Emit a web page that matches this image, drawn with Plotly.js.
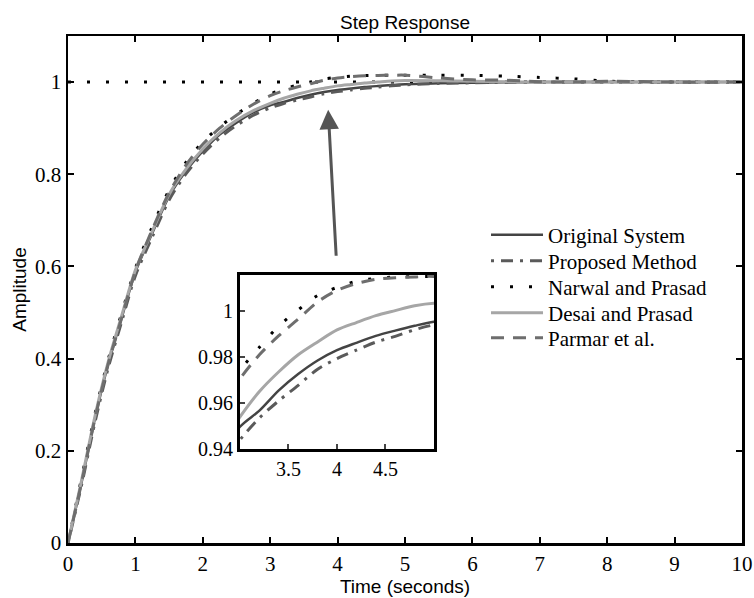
<!DOCTYPE html>
<html><head><meta charset="utf-8">
<script src="https://cdn.plot.ly/plotly-3.0.1.min.js"></script>
<style>html,body{margin:0;padding:0;background:#fff}#chart{width:754px;height:598px}</style>
</head><body><div id="chart"></div>
<script>
// Time samples (seconds)
const time = [0,0.2,0.4,0.6,0.8,1,1.25,1.5,1.75,2,2.25,2.5,2.75,3,3.2,3.4,3.6,3.8,4,4.2,4.4,4.6,4.8,5,5.5,6,6.5,7,7.5,8,9,10];

// Series values
const originalSystem = [0,0.13,0.27,0.39,0.49,0.588,0.672,0.752,0.807,0.85,0.886,0.912,0.934,0.9497,0.9567,0.9655,0.9726,0.9785,0.983,0.9862,0.9892,0.9915,0.9936,0.9954,0.9975,0.9988,0.9995,1,1,1,1,1];
const proposedMethod = [0,0.125,0.262,0.382,0.482,0.58,0.664,0.744,0.801,0.844,0.879,0.906,0.928,0.944,0.9535,0.961,0.9677,0.9747,0.9793,0.983,0.9865,0.989,0.9919,0.994,0.997,0.9985,0.9995,1,1,1,1,1];
const narwalPrasad = [0,0.14,0.28,0.4,0.5,0.596,0.686,0.766,0.826,0.87,0.903,0.93,0.954,0.974,0.9843,0.9935,1.0005,1.0068,1.0103,1.013,1.0142,1.0148,1.015,1.015,1.015,1.0145,1.013,1.01,1.007,1.002,1,1];
const desaiPrasad = [0,0.135,0.275,0.395,0.495,0.592,0.676,0.756,0.811,0.855,0.89,0.917,0.938,0.954,0.965,0.9736,0.981,0.9866,0.9918,0.995,0.998,1.0002,1.0023,1.0034,1.003,1.002,1.001,1,1,1,1,1];
const parmarEtAl = [0,0.13,0.27,0.39,0.49,0.59,0.68,0.76,0.82,0.865,0.9,0.928,0.952,0.9705,0.981,0.9893,0.9965,1.004,1.009,1.012,1.0138,1.0145,1.0148,1.015,1.009,1.005,1.004,1.001,1,1.002,1,1];

// Steady-state reference line
const refTime = [0,10];
const refValue = [1,1];

const seriesNames = ['Original System','Proposed Method','Narwal and Prasad','Desai and Prasad','Parmar et al.'];
const seriesData = [originalSystem, proposedMethod, narwalPrasad, desaiPrasad, parmarEtAl];
const seriesStyle = [
  {color:'#444444', width:2.5, dash:'solid'},
  {color:'#5a5a5a', width:3, dash:'3px,7px,12px,7px'},
  {color:'#000000', width:3, dash:'3px,16px'},
  {color:'#a6a6a6', width:3, dash:'solid'},
  {color:'#6e6e6e', width:3, dash:'13px,9px'}
];
const legendIds = ['legend','legend2','legend3','legend4','legend5'];
const legendRowY = [0.6075, 0.5562, 0.5049, 0.4536, 0.4043];

const traces = [];
traces.push({x:refTime, y:refValue, type:'scatter', mode:'lines', showlegend:false, hoverinfo:'skip',
  line:{color:'#000', width:3, dash:'3px,16px'}, xaxis:'x', yaxis:'y'});
seriesData.forEach((d,i)=>{
  traces.push({x:time, y:d, name:seriesNames[i], type:'scatter', mode:'lines', legend:legendIds[i],
    line:Object.assign({shape:'spline', smoothing:0.8}, seriesStyle[i]), xaxis:'x', yaxis:'y'});
});
seriesData.forEach((d,i)=>{
  traces.push({x:time, y:d, name:seriesNames[i], type:'scatter', mode:'lines', showlegend:false,
    line:Object.assign({shape:'spline', smoothing:0.8}, seriesStyle[i]), xaxis:'x2', yaxis:'y2'});
});

const serif = 'Liberation Serif, Times New Roman, serif';
const sans = 'Liberation Sans, Arial, sans-serif';

const layout = {
  width:754, height:598,
  margin:{l:68, r:12, t:36, b:55},
  paper_bgcolor:'#fff', plot_bgcolor:'rgba(0,0,0,0)',
  title:{text:'Step Response', font:{family:sans, size:19, color:'#000'}, x:0.5, xref:'paper', y:0.963, yref:'container', yanchor:'middle'},
  xaxis:{range:[0,10], dtick:1, tick0:0, ticks:'inside', ticklen:6, tickwidth:2, tickcolor:'#000',
    showline:true, linewidth:2.5, linecolor:'#000', mirror:'ticks', showgrid:false, zeroline:false,
    tickfont:{family:serif, size:21, color:'#000'},
    title:{text:'Time (seconds)', font:{family:sans, size:19, color:'#000'}, standoff:0}},
  yaxis:{range:[0,1.1], dtick:0.2, tick0:0, ticks:'inside', ticklen:6, tickwidth:2, tickcolor:'#000',
    showline:true, linewidth:2.5, linecolor:'#000', mirror:'ticks', showgrid:false, zeroline:false,
    tickfont:{family:serif, size:21, color:'#000'},
    title:{text:'Amplitude', font:{family:sans, size:19, color:'#000'}, standoff:4}},
  xaxis2:{domain:[0.2552,0.543], anchor:'y2', range:[3,5], tickvals:[3.5,4,4.5], ticks:'inside', ticklen:5, tickwidth:2,
    showline:true, linewidth:3, linecolor:'#000', mirror:true, showgrid:false, zeroline:false,
    tickfont:{family:serif, size:20, color:'#000'}},
  yaxis2:{domain:[0.1854,0.5286], anchor:'x2', range:[0.94,1.0157], tickvals:[0.94,0.96,0.98,1], ticks:'inside', ticklen:5, tickwidth:2,
    showline:true, linewidth:3, linecolor:'#000', mirror:true, showgrid:false, zeroline:false,
    tickfont:{family:serif, size:20, color:'#000'}},
  annotations:[{x:3.86, y:0.94, xref:'x', yref:'y', ax:3.98, ay:0.62, axref:'x', ayref:'y',
    text:'', showarrow:true, arrowhead:2, arrowsize:1.3, arrowwidth:3, arrowcolor:'#555555'}],
  showlegend:true
};
legendIds.forEach((id,i)=>{
  layout[id] = {x:0.6202, y:legendRowY[i], xanchor:'left', yanchor:'middle', bgcolor:'rgba(0,0,0,0)', borderwidth:0,
    font:{family:serif, size:21, color:'#000'}, itemwidth:52};
});

Plotly.newPlot('chart', traces, layout, {staticPlot:true, displayModeBar:false});
</script>
</body></html>
